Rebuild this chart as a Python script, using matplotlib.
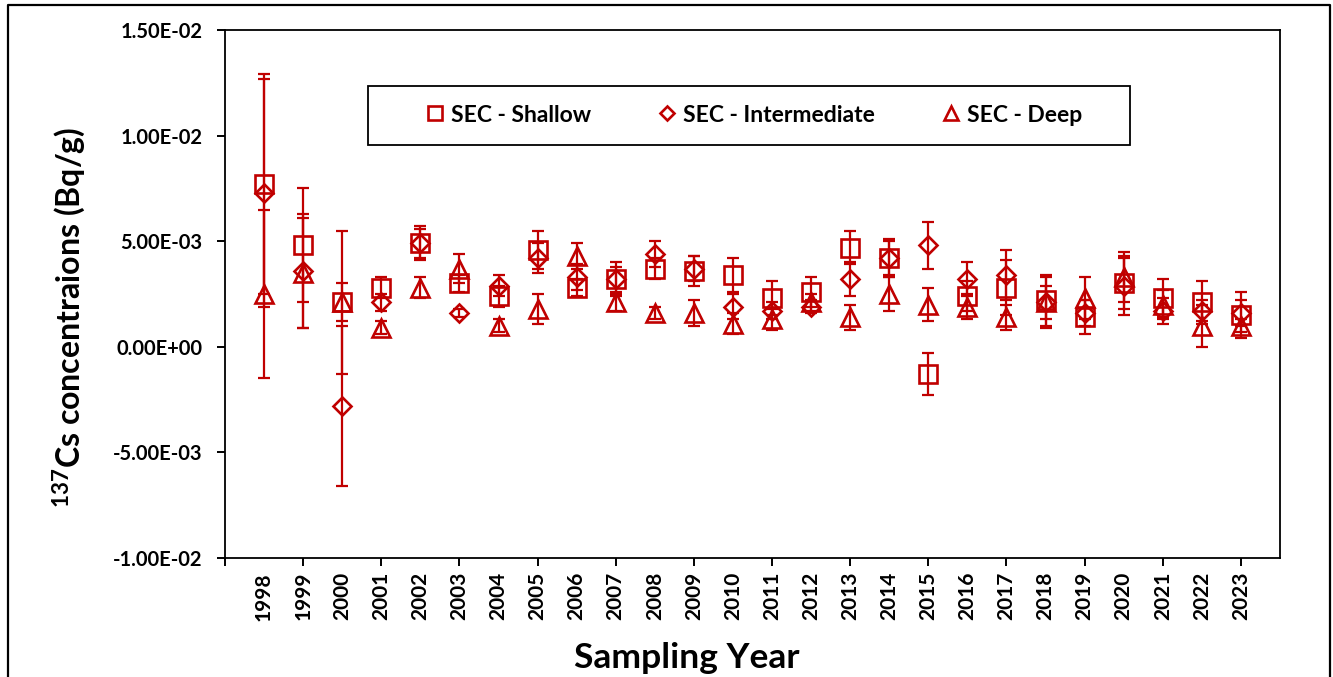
import matplotlib
matplotlib.use("Agg")
import matplotlib.pyplot as plt
from matplotlib.ticker import FixedLocator, FuncFormatter
from matplotlib.lines import Line2D
from matplotlib.patches import Rectangle

# ---------------- data ----------------
years = list(range(1998, 2024))

shallow = [0.0077, 0.0048, 0.0021, 0.0028, 0.0049, 0.0030, 0.0024, 0.0046, 0.0028, 0.0032,
           0.0037, 0.0036, 0.0034, 0.0023, 0.0026, 0.0047, 0.0042, -0.0013, 0.0024, 0.0028,
           0.0022, 0.0014, 0.0030, 0.0023, 0.0021, 0.0015]
shallow_err = [0.0052, 0.0027, 0.0034, 0.0005, 0.0008, 0.0004, 0.0005, 0.0009, 0.0004, 0.0008,
               0.0005, 0.0007, 0.0008, 0.0008, 0.0007, 0.0008, 0.0009, 0.0010, 0.0007, 0.0013,
               0.0012, 0.0008, 0.0012, 0.0009, 0.0010, 0.0011]

intermediate = [0.0073, 0.0036, -0.0028, 0.0021, 0.0049, 0.0016, 0.0029, 0.0042, 0.0033, 0.0032,
                0.0044, 0.0037, 0.0019, 0.0017, 0.0019, 0.0032, 0.0042, 0.0048, 0.0032, 0.0034,
                0.0021, 0.0016, 0.0029, 0.0017, 0.0017, 0.0016]
intermediate_err = [0.0054, 0.0027, 0.0038, 0.0004, 0.0007, 0.0002, 0.0005, 0.0007, 0.0006, 0.0006,
                    0.0006, 0.0006, 0.0006, 0.0004, 0.0003, 0.0008, 0.0008, 0.0011, 0.0008, 0.0012,
                    0.0012, 0.0006, 0.0014, 0.0006, 0.0005, 0.0006]

deep = [0.0025, 0.0035, 0.0021, 0.0009, 0.0028, 0.0037, 0.0010, 0.0018, 0.0043, 0.0021,
        0.0016, 0.0016, 0.0011, 0.0013, 0.0021, 0.0014, 0.0025, 0.0020, 0.0019, 0.0014,
        0.0021, 0.0023, 0.0033, 0.0020, 0.0010, 0.0010]
deep_err = [0.0040, 0.0026, 0.0009, 0.0003, 0.0005, 0.0007, 0.0003, 0.0007, 0.0006, 0.0004,
            0.0003, 0.0006, 0.0005, 0.0005, 0.0004, 0.0006, 0.0008, 0.0008, 0.0006, 0.0006,
            0.0008, 0.0010, 0.0012, 0.0007, 0.0010, 0.0003]

series_labels = ["SEC - Shallow", "SEC - Intermediate", "SEC - Deep"]
y_ticks = [-0.01, -0.005, 0.0, 0.005, 0.01, 0.015]

# ---------------- style ----------------
plt.rcParams['font.family'] = ['Lato', 'DejaVu Sans']
plt.rcParams['font.weight'] = 'bold'
plt.rcParams['mathtext.fontset'] = 'custom'
plt.rcParams['mathtext.rm'] = 'Lato:bold'
plt.rcParams['mathtext.bf'] = 'Lato:bold'
plt.rcParams['mathtext.default'] = 'bf'

RED = '#C00000'
W, H = 1333, 677
fig = plt.figure(figsize=(W / 100, H / 100), dpi=100)
ax = fig.add_axes([225 / W, 1 - 558 / H, (1280 - 225) / W, (558 - 30) / H])

specs = [(shallow, shallow_err, 's', 12.5),
         (intermediate, intermediate_err, 'D', 9.0),
         (deep, deep_err, '^', 12.5)]
handles = []
for (vals, errs, mk, ms), lab in zip(specs, series_labels):
    ax.errorbar(years, vals, yerr=errs, fmt='none', ecolor=RED, elinewidth=1.6,
                capsize=4, capthick=1.6, zorder=2)
    ax.plot(years, vals, linestyle='none', marker=mk, markersize=ms,
            markerfacecolor='none', markeredgecolor=RED, markeredgewidth=1.9, zorder=3)
    handles.append(Line2D([], [], linestyle='none', marker=mk,
                          markersize=ms * 0.8, markerfacecolor='none',
                          markeredgecolor=RED, markeredgewidth=1.9, label=lab))

ax.set_xlim(1997, 2024)
ax.set_ylim(-0.01, 0.015)

ax.xaxis.remove_overlapping_locs = False
ax.set_xticks(years)
ax.set_xticklabels([str(y) for y in years], rotation=90, fontsize=15, fontweight='bold')
ax.xaxis.set_minor_locator(FixedLocator(list(range(1997, 2024, 2))))
ax.tick_params(axis='x', which='major', length=0, pad=10)
ax.tick_params(axis='x', which='minor', length=6, width=1.4, direction='out')

ax.set_yticks(y_ticks)
ax.yaxis.set_major_formatter(FuncFormatter(lambda v, p: ("%.2E" % v).replace("-0.00E+00", "0.00E+00")))
ax.tick_params(axis='y', which='major', length=6, width=1.4, direction='out', pad=10, labelsize=14.5)
for lbl in ax.get_yticklabels():
    lbl.set_fontweight('bold')

for sp in ax.spines.values():
    sp.set_linewidth(1.3)
    sp.set_color('black')

# axis titles
fig.text(69 / W, 1 - 317 / H, r"$^{137}$Cs concentraions (Bq/g)", rotation=90,
         ha='center', va='center', fontsize=23, fontweight='bold')
fig.text(687 / W, 1 - 668 / H, "Sampling Year", ha='center', va='baseline',
         fontsize=25.5, fontweight='bold')

# legend
fig.patches.append(Rectangle((368 / W, 1 - 145 / H), (1130 - 368) / W, (145 - 86) / H,
                             transform=fig.transFigure, fill=False, edgecolor='black',
                             linewidth=1.3, zorder=5))
leg = ax.legend(handles=handles, ncol=3, frameon=False, loc='center',
                bbox_to_anchor=(754 / W, 1 - 115 / H), bbox_transform=fig.transFigure,
                prop={'family': 'Lato', 'weight': 'bold', 'size': 16.5},
                handlelength=0.8, handletextpad=0.3, columnspacing=2.9)

# outer frame
fig.add_artist(Line2D([8 / W, 8 / W, 1330 / W, 1330 / W], [-0.05, 1 - 5 / H, 1 - 5 / H, -0.05],
                      transform=fig.transFigure, color='black', linewidth=1.6))

fig.savefig("out.png", dpi=100)
